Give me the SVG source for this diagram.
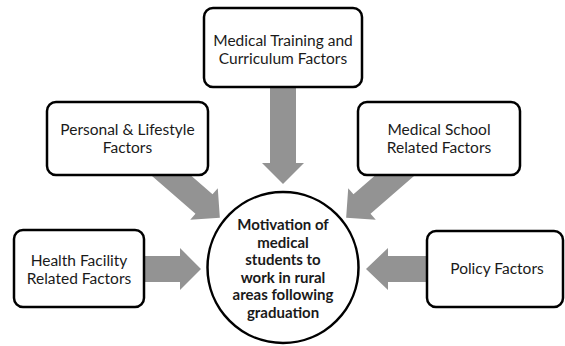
<svg xmlns="http://www.w3.org/2000/svg" width="565" height="346" viewBox="0 0 565 346">
<style>
.arrow{fill:#939393;stroke:none}
.box{fill:#ffffff;stroke:#000000;stroke-width:2.5}
.t{font-family:Lato,"Open Sans","Liberation Sans",sans-serif;font-size:15.5px;fill:#1a1a1a;text-anchor:middle}
.b{font-family:Lato,"Open Sans","Liberation Sans",sans-serif;font-size:15px;font-weight:bold;fill:#1a1a1a;text-anchor:middle}
</style>
<rect width="565" height="346" fill="#ffffff"/>
<g id="connectors">
<polygon class="arrow" points="270,80 296,80 296,163 304,163 283,184 262,163 270,163"/>
<polygon class="arrow" points="140,256 180,256 180,248 201,269 180,290 180,282 140,282"/>
<polygon class="arrow" points="430,256 388,256 388,248 366,269 388,290 388,282 430,282"/>
<polygon class="arrow" points="162.72,150.89 212.53,194.19 217.78,188.15 219.85,217.78 190.22,219.85 195.47,213.81 145.66,170.51"/>
<polygon class="arrow" points="403.28,150.89 353.47,194.19 348.22,188.15 346.15,217.78 375.78,219.85 370.53,213.81 420.34,170.51"/>
</g>
<g id="node-training">
<rect class="box" x="204" y="8" width="158" height="79" rx="9"/>
<text class="t" x="283" y="46">Medical Training and</text>
<text class="t" x="283" y="64">Curriculum Factors</text>
</g>
<g id="node-personal">
<rect class="box" x="47" y="102" width="161" height="73" rx="9"/>
<text class="t" x="127.5" y="135">Personal &amp; Lifestyle</text>
<text class="t" x="127.5" y="153">Factors</text>
</g>
<g id="node-school">
<rect class="box" x="358" y="102" width="162" height="73" rx="9"/>
<text class="t" x="439" y="135">Medical School</text>
<text class="t" x="439" y="153">Related Factors</text>
</g>
<g id="node-health">
<rect class="box" x="14" y="230" width="130" height="77" rx="9"/>
<text class="t" x="79" y="266">Health Facility</text>
<text class="t" x="79" y="284">Related Factors</text>
</g>
<g id="node-policy">
<rect class="box" x="427" y="231" width="136" height="76" rx="9"/>
<text class="t" x="497" y="274">Policy Factors</text>
</g>
<g id="node-motivation">
<circle cx="283" cy="267.5" r="75.5" fill="#ffffff" stroke="#000000" stroke-width="2.5"/>
<text class="b" x="283" y="230">Motivation of</text>
<text class="b" x="283" y="247.5">medical</text>
<text class="b" x="283" y="265">students to</text>
<text class="b" x="283" y="282.5">work in rural</text>
<text class="b" x="283" y="300">areas following</text>
<text class="b" x="283" y="317.5">graduation</text>
</g>
</svg>
